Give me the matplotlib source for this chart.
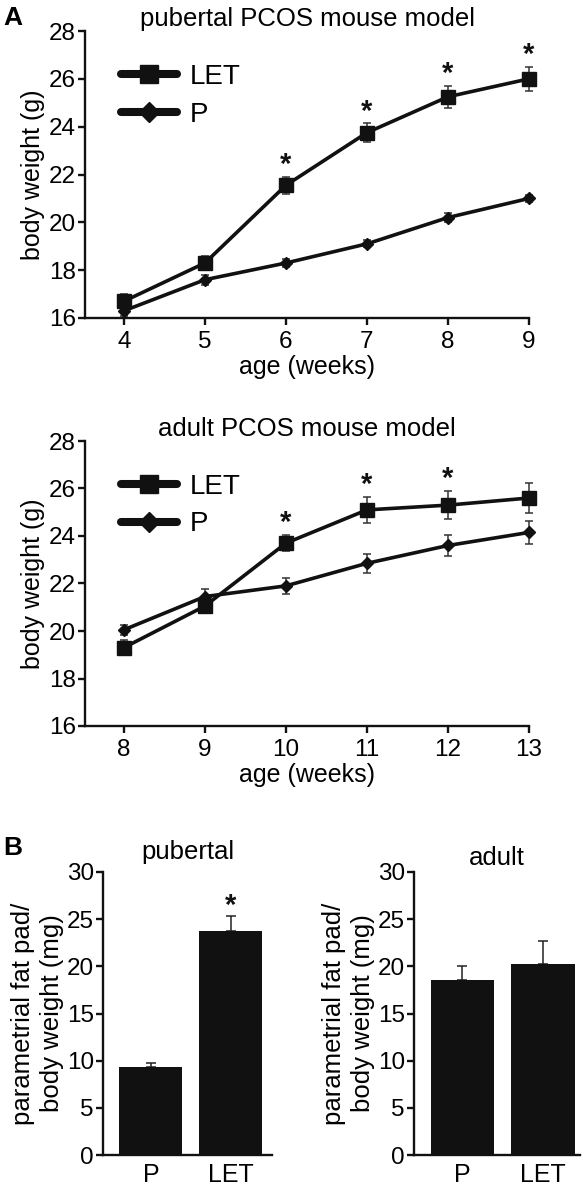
import numpy as np
import matplotlib
matplotlib.use('Agg')
import matplotlib.pyplot as plt
from matplotlib.lines import Line2D

plt.rcParams['font.family'] = ['Liberation Sans', 'DejaVu Sans']

W, H = 584, 1185

# panel A data
pub_weeks = [4, 5, 6, 7, 8, 9]
pub_let = [16.7, 18.3, 21.55, 23.75, 25.25, 26.0]
pub_let_err = [0.3, 0.3, 0.35, 0.4, 0.45, 0.5]
pub_p = [16.3, 17.6, 18.3, 19.1, 20.2, 21.0]
pub_p_err = [0.2, 0.2, 0.15, 0.15, 0.2, 0.15]
pub_sig = [6, 7, 8, 9]

ad_weeks = [8, 9, 10, 11, 12, 13]
ad_let = [19.3, 21.05, 23.7, 25.1, 25.3, 25.6]
ad_let_err = [0.3, 0.25, 0.35, 0.55, 0.6, 0.65]
ad_p = [20.05, 21.45, 21.9, 22.85, 23.6, 24.15]
ad_p_err = [0.2, 0.3, 0.35, 0.4, 0.45, 0.5]
ad_sig = [10, 11, 12]

# panel B data
groups = ['P', 'LET']
fat_pub = [9.3, 23.7]
fat_pub_err = [0.5, 1.6]
fat_ad = [18.6, 20.2]
fat_ad_err = [1.4, 2.5]

INK = '#111111'


def rect(l, t, r, b):
    return [l / W, 1 - b / H, (r - l) / W, (b - t) / H]


def style(ax):
    ax.spines['top'].set_visible(False)
    ax.spines['right'].set_visible(False)
    for s in ['left', 'bottom']:
        ax.spines[s].set_linewidth(1.7)
        ax.spines[s].set_color(INK)
    ax.tick_params(direction='out', length=5, width=1.7, labelsize=17.5, pad=1.5, color=INK)
    ax.tick_params(axis='x', pad=4)


fig = plt.figure(figsize=(W / 100, H / 100), dpi=100)


def line_panel(r, weeks, let, let_err, p, p_err, sig, title):
    ax = fig.add_axes(rect(*r))
    style(ax)
    ax.errorbar(weeks, let, yerr=let_err, color=INK, lw=2.6, marker='s', ms=9.5,
                ecolor='#333333', elinewidth=1.1, capsize=3, capthick=1.1, clip_on=False, zorder=3)
    ax.errorbar(weeks, p, yerr=p_err, color=INK, lw=2.6, marker='D', ms=6,
                ecolor='#333333', elinewidth=1.1, capsize=3, capthick=1.1, clip_on=False, zorder=3)
    for w in sig:
        i = weeks.index(w)
        ax.text(w, let[i] + let_err[i] + 0.15, '*', ha='center', va='baseline', fontsize=21,
                fontweight='bold', color=INK)
    ax.set_xlim(weeks[0] - 0.48, weeks[-1])
    ax.set_ylim(16, 28)
    ax.set_yticks(range(16, 29, 2))
    ax.set_xticks(weeks)
    ax.set_ylabel('body weight (g)', fontsize=18, labelpad=3)
    ax.set_xlabel('age (weeks)', fontsize=18, labelpad=2)
    ax.set_title(title, fontsize=18.5, pad=2)
    h1 = Line2D([], [], color=INK, lw=5.8, marker='s', ms=13.5, solid_capstyle='round')
    h2 = Line2D([], [], color=INK, lw=5.8, marker='D', ms=10.5, solid_capstyle='round')
    ax.legend([h1, h2], ['LET', 'P'], loc='upper left', bbox_to_anchor=(0.08, 0.885), frameon=False,
              fontsize=20, handlelength=2.05, handletextpad=0.45, labelspacing=0.42,
              borderpad=0, borderaxespad=0)
    return ax


line_panel((85, 31, 529, 318), pub_weeks, pub_let, pub_let_err, pub_p, pub_p_err, pub_sig,
           'pubertal PCOS mouse model')
line_panel((85, 441, 529, 726), ad_weeks, ad_let, ad_let_err, ad_p, ad_p_err, ad_sig,
           'adult PCOS mouse model')


def bar_panel(r, vals, errs, title, sig, xmax, tpad):
    ax = fig.add_axes(rect(*r))
    style(ax)
    x = np.arange(len(groups))
    ax.bar(x, vals, width=0.79, color=INK, zorder=2)
    ax.errorbar(x, vals, yerr=[np.zeros(len(vals)), errs], fmt='none', ecolor='#222222',
                elinewidth=1.1, capsize=3.6, capthick=1.1, zorder=1)
    if sig:
        ax.text(1, vals[1] + errs[1] + 0.3, '*', ha='center', va='baseline', fontsize=21,
                fontweight='bold', color=INK)
    ax.set_xlim(-0.6, xmax)
    ax.set_ylim(0, 30)
    ax.set_yticks(range(0, 31, 5))
    ax.set_xticks(x)
    ax.set_xticklabels(groups)
    ax.tick_params(axis='x', length=0, pad=6, labelsize=18)
    ax.set_ylabel('parametrial fat pad/\nbody weight (mg)', fontsize=18.5, labelpad=2, linespacing=1.25)
    ax.set_title(title, fontsize=18.5, pad=tpad)
    return ax


bar_panel((103, 872, 272, 1155), fat_pub, fat_pub_err, 'pubertal', True, 1.52, 9)
bar_panel((414, 872, 580, 1155), fat_ad, fat_ad_err, 'adult', False, 1.46, 5)

fig.text(3 / W, 1 - 6 / H, 'A', fontsize=19, fontweight='bold', va='top', ha='left')
fig.text(3 / W, 1 - 836 / H, 'B', fontsize=19, fontweight='bold', va='top', ha='left')

fig.savefig('out.png', dpi=100)
